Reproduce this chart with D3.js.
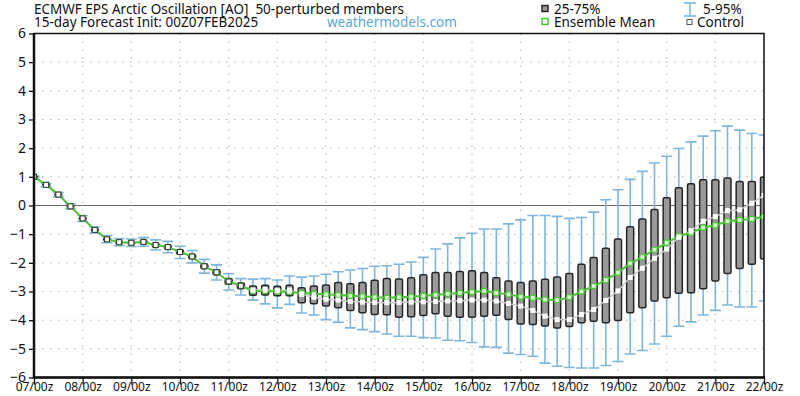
<!DOCTYPE html>
<html>
<head>
<meta charset="utf-8">
<script src="https://cdn.jsdelivr.net/npm/d3@7"></script>
<style>
  body { margin: 0; background: #fff; }
  svg { font-family: "Noto Sans", "Open Sans", sans-serif; }
</style>
</head>
<body>
<svg id="chart" width="800" height="396"></svg>
<script>
// x labels, one per day (steps are 6-hourly, 4 per day)
var dayLabels = ["07/00z","08/00z","09/00z","10/00z","11/00z","12/00z","13/00z","14/00z",
                 "15/00z","16/00z","17/00z","18/00z","19/00z","20/00z","21/00z","22/00z"];
var yTicks = [6, 5, 4, 3, 2, 1, 0, -1, -2, -3, -4, -5, -6];

// ensemble mean (green)
var meanVals = [1.0, 0.72, 0.38, -0.03, -0.45, -0.85, -1.18, -1.28, -1.3, -1.27,
  -1.38, -1.45, -1.62, -1.78, -2.12, -2.33, -2.65, -2.8, -2.98, -2.98,
  -3.0, -3.02, -3.05, -3.08, -3.1, -3.12, -3.15, -3.17, -3.2, -3.22,
  -3.2, -3.18, -3.15, -3.12, -3.08, -3.05, -3.02, -2.98, -3.05, -3.1,
  -3.18, -3.22, -3.28, -3.3, -3.2, -3.0, -2.81, -2.6, -2.34, -2.02,
  -1.8, -1.54, -1.3, -1.07, -0.95, -0.77, -0.69, -0.55, -0.51, -0.47, -0.39];
// control run
var controlVals = [1.0, 0.72, 0.38, -0.03, -0.45, -0.85, -1.18, -1.28, -1.3, -1.27,
  -1.38, -1.45, -1.62, -1.78, -2.12, -2.33, -2.65, -2.8, -2.95, -2.93,
  -2.97, -2.95, -3.1, -3.2, -3.27, -3.3, -3.35, -3.37, -3.38, -3.39,
  -3.38, -3.37, -3.36, -3.35, -3.33, -3.32, -3.3, -3.3, -3.33, -3.42,
  -3.51, -3.66, -3.86, -3.98, -3.98, -3.8, -3.63, -3.31, -2.98, -2.51,
  -2.19, -1.84, -1.52, -1.11, -0.88, -0.55, -0.39, -0.18, -0.15, 0.08, 0.35];
// 25th / 75th percentiles
var q25 = [0.99, 0.7, 0.35, -0.06, -0.49, -0.89, -1.22, -1.32, -1.34, -1.32,
  -1.43, -1.51, -1.69, -1.85, -2.2, -2.42, -2.75, -2.9, -3.13, -3.12,
  -3.15, -3.15, -3.39, -3.43, -3.51, -3.57, -3.66, -3.74, -3.8, -3.81,
  -3.9, -3.88, -3.84, -3.78, -3.86, -3.9, -3.9, -3.86, -3.83, -3.98,
  -4.13, -4.15, -4.2, -4.27, -4.22, -4.09, -4.04, -4.09, -4.01, -3.74,
  -3.57, -3.33, -3.22, -3.06, -3.04, -2.9, -2.63, -2.37, -2.2, -2.05, -1.87];
var q75 = [1.01, 0.74, 0.41, 0.0, -0.41, -0.81, -1.14, -1.24, -1.26, -1.22,
  -1.32, -1.39, -1.55, -1.71, -2.04, -2.24, -2.55, -2.7, -2.81, -2.78,
  -2.82, -2.78, -2.87, -2.81, -2.77, -2.69, -2.73, -2.69, -2.61, -2.55,
  -2.56, -2.52, -2.42, -2.34, -2.34, -2.3, -2.28, -2.34, -2.52, -2.63,
  -2.69, -2.63, -2.57, -2.49, -2.37, -2.05, -1.81, -1.49, -1.17, -0.74,
  -0.47, -0.14, 0.27, 0.62, 0.76, 0.9, 0.9, 0.96, 0.84, 0.84, 0.99];
// 5th / 95th percentiles
var p05 = [0.98, 0.66, 0.31, -0.12, -0.56, -0.96, -1.3, -1.4, -1.43, -1.42,
  -1.55, -1.65, -1.85, -2.0, -2.36, -2.6, -2.95, -3.12, -3.3, -3.43,
  -3.57, -3.45, -3.75, -3.82, -3.98, -4.07, -4.27, -4.33, -4.4, -4.48,
  -4.56, -4.56, -4.61, -4.62, -4.7, -4.72, -4.78, -4.93, -4.95, -5.15,
  -5.2, -5.26, -5.5, -5.61, -5.65, -5.67, -5.67, -5.58, -5.44, -5.18,
  -5.06, -4.83, -4.56, -4.21, -4.06, -3.82, -3.66, -3.47, -3.54, -3.54, -3.33];
var p95 = [1.03, 0.77, 0.45, 0.06, -0.35, -0.75, -1.05, -1.15, -1.17, -1.12,
  -1.2, -1.25, -1.42, -1.57, -1.88, -2.07, -2.38, -2.55, -2.57, -2.55,
  -2.6, -2.46, -2.5, -2.46, -2.4, -2.31, -2.25, -2.2, -2.12, -2.1,
  -2.05, -1.97, -1.81, -1.52, -1.34, -1.13, -0.97, -0.82, -0.82, -0.64,
  -0.5, -0.35, -0.35, -0.38, -0.45, -0.42, -0.23, 0.2, 0.55, 0.91,
  1.19, 1.48, 1.72, 1.99, 2.22, 2.42, 2.61, 2.77, 2.63, 2.51, 2.46];

var steps = d3.range(meanVals.length);

var svg = d3.select("#chart");
var plotL = 34, plotR = 764, plotT = 33.5, plotB = 377.5;

var x = d3.scaleLinear().domain([0, 60]).range([plotL, plotR]);
var y = d3.scaleLinear().domain([-6, 6]).range([plotB, plotT]);

// clip for plot area
svg.append("clipPath").attr("id", "plotclip")
  .append("rect").attr("x", plotL).attr("y", plotT)
  .attr("width", plotR - plotL).attr("height", plotB - plotT);

// grid (dotted)
var grid = svg.append("g");
grid.selectAll("line.gy").data(yTicks.filter(function(d){ return d != 0 && d != 6 && d != -6; }))
  .enter().append("line")
  .attr("x1", plotL).attr("x2", plotR)
  .attr("y1", function(d){ return y(d); }).attr("y2", function(d){ return y(d); })
  .style("stroke", "#b5b5b5").style("stroke-dasharray", "1.5,6.5");
grid.selectAll("line.gx").data(dayLabels.slice(1, -1))
  .enter().append("line")
  .attr("x1", function(d, i){ return x((i + 1) * 4); }).attr("x2", function(d, i){ return x((i + 1) * 4); })
  .attr("y1", plotT).attr("y2", plotB)
  .style("stroke", "#b5b5b5").style("stroke-dasharray", "1.5,6.5");

// zero line
svg.append("line")
  .attr("x1", plotL).attr("x2", plotR).attr("y1", y(0)).attr("y2", y(0))
  .style("stroke", "#666").style("stroke-width", 1);

var plot = svg.append("g").attr("clip-path", "url(#plotclip)");

// 5-95% whiskers
var wh = plot.append("g").style("stroke", "#7eb6dd").style("stroke-width", 1.6);
wh.selectAll("line.stem").data(steps).enter().append("line")
  .attr("x1", function(i){ return x(i); }).attr("x2", function(i){ return x(i); })
  .attr("y1", function(i){ return y(p05[i]); }).attr("y2", function(i){ return y(p95[i]); });
wh.selectAll("line.capt").data(steps).enter().append("line")
  .attr("x1", function(i){ return x(i) - 5.5; }).attr("x2", function(i){ return x(i) + 5.5; })
  .attr("y1", function(i){ return y(p95[i]); }).attr("y2", function(i){ return y(p95[i]); });
wh.selectAll("line.capb").data(steps).enter().append("line")
  .attr("x1", function(i){ return x(i) - 5.5; }).attr("x2", function(i){ return x(i) + 5.5; })
  .attr("y1", function(i){ return y(p05[i]); }).attr("y2", function(i){ return y(p05[i]); });

// 25-75% boxes
plot.selectAll("rect.box").data(steps).enter().append("rect")
  .attr("x", function(i){ return x(i) - 3.5; })
  .attr("width", 7)
  .attr("y", function(i){ return y(q75[i]); })
  .attr("height", function(i){ return Math.max(0.5, y(q25[i]) - y(q75[i])); })
  .attr("rx", 1.5)
  .style("fill", "#999").style("stroke", "#262626").style("stroke-width", 1.5);

// control line
plot.append("path").datum(steps)
  .attr("d", d3.line().x(function(i){ return x(i); }).y(function(i){ return y(controlVals[i]); }))
  .style("fill", "none").style("stroke", "#c8c8c8").style("stroke-width", 1.5);

// ensemble mean line
plot.append("path").datum(steps)
  .attr("d", d3.line().x(function(i){ return x(i); }).y(function(i){ return y(meanVals[i]); }))
  .style("fill", "none").style("stroke", "#4ec23c").style("stroke-width", 2);

plot.selectAll("rect.mean").data(steps).enter().append("rect")
  .attr("x", function(i){ return x(i) - 2.5; }).attr("y", function(i){ return y(meanVals[i]) - 2.5; })
  .attr("width", 5).attr("height", 5)
  .style("fill", "#d9f5d2").style("stroke", "#4ec23c").style("stroke-width", 1.2);

// control markers
plot.selectAll("rect.ctrl").data(steps).enter().append("rect")
  .attr("x", function(i){ return x(i) - 2.5; }).attr("y", function(i){ return y(controlVals[i]) - 2.5; })
  .attr("width", 5).attr("height", 5)
  .style("fill", "#fff")
  .style("stroke", function(i){ return i < 18 ? "#333" : "none"; })
  .style("stroke-width", 1);

// frame
svg.append("rect").attr("x", plotL).attr("y", plotT)
  .attr("width", plotR - plotL).attr("height", plotB - plotT)
  .style("fill", "none").style("stroke", "#111").style("stroke-width", 1.5);
svg.append("line").attr("x1", plotL).attr("x2", plotL).attr("y1", plotT).attr("y2", plotB + 1)
  .style("stroke", "#111").style("stroke-width", 2.5);
svg.append("line").attr("x1", plotL).attr("x2", plotR + 1).attr("y1", plotB).attr("y2", plotB)
  .style("stroke", "#111").style("stroke-width", 2.5);

// axes
var yAxis = d3.axisLeft(y).tickValues(yTicks).tickSize(5).tickPadding(3).tickFormat(d3.format("d"));
var gy = svg.append("g").attr("transform", "translate(" + plotL + ",0)").call(yAxis);
gy.select(".domain").remove();
gy.selectAll("text").style("font-size", "14px").style("fill", "#111")
  .style("font-family", "'Noto Sans', sans-serif");
gy.selectAll("line").style("stroke", "#111").style("stroke-width", 1.3);

var xAxis = d3.axisBottom(x).tickValues(d3.range(0, 61, 4))
  .tickFormat(function(d){ return dayLabels[d / 4]; }).tickSize(7).tickPadding(0);
var gx = svg.append("g").attr("transform", "translate(0," + plotB + ")").call(xAxis);
gx.select(".domain").remove();
gx.selectAll("text").attr("y", 5).style("font-size", "12px").style("fill", "#111")
  .style("font-family", "'Noto Sans', sans-serif");
gx.selectAll("line").style("stroke", "#111").style("stroke-width", 1.3);

// titles
svg.append("text").attr("x", 34).attr("y", 13.5).text("ECMWF EPS Arctic Oscillation [AO]  50-perturbed members")
  .style("font-size", "13.5px").style("fill", "#111").attr("xml:space", "preserve");
svg.append("text").attr("x", 34).attr("y", 27).text("15-day Forecast Init: 00Z07FEB2025")
  .style("font-size", "13.5px").style("fill", "#111");
svg.append("text").attr("x", 327).attr("y", 27).text("weathermodels.com")
  .style("font-size", "13.5px").style("fill", "#5aa8d8");

// legend
var lg = svg.append("g").style("font-size", "13.5px").style("fill", "#111");
lg.append("rect").attr("x", 542).attr("y", 5.5).attr("width", 6).attr("height", 6)
  .style("fill", "#999").style("stroke", "#262626").style("stroke-width", 1.5);
lg.append("text").attr("x", 554).attr("y", 13.5).text("25-75%");
lg.append("rect").attr("x", 542).attr("y", 18.5).attr("width", 6).attr("height", 6)
  .style("fill", "#fff").style("stroke", "#4ec23c").style("stroke-width", 1.5);
lg.append("text").attr("x", 554).attr("y", 27).text("Ensemble Mean");
var wi = lg.append("g").style("stroke", "#7eb6dd").style("stroke-width", 1.6);
wi.append("line").attr("x1", 690).attr("x2", 690).attr("y1", 3).attr("y2", 16);
wi.append("line").attr("x1", 684).attr("x2", 696).attr("y1", 3).attr("y2", 3);
wi.append("line").attr("x1", 684).attr("x2", 696).attr("y1", 16).attr("y2", 16);
lg.append("text").attr("x", 703).attr("y", 13.5).text("5-95%");
lg.append("rect").attr("x", 687).attr("y", 19.5).attr("width", 5).attr("height", 5)
  .style("fill", "#fff").style("stroke", "#555").style("stroke-width", 1);
lg.append("text").attr("x", 697).attr("y", 27).text("Control");
</script>
</body>
</html>
